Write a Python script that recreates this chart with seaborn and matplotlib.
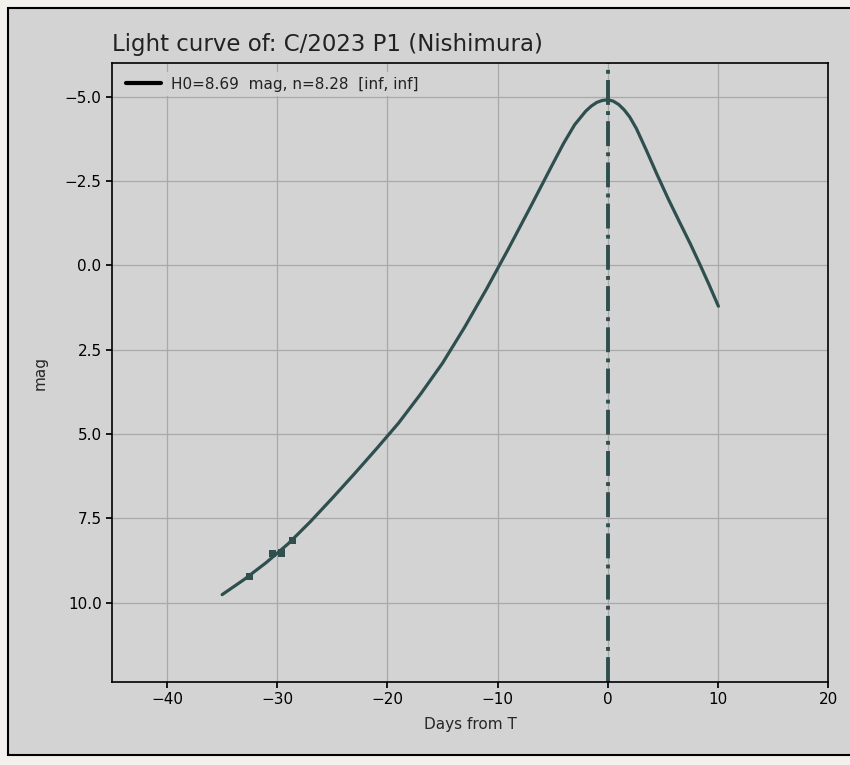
import matplotlib
matplotlib.use("Agg")
import matplotlib.pyplot as plt
from matplotlib.lines import Line2D
from matplotlib.patches import Rectangle
import seaborn as sns
import pandas as pd

# light curve (days from perihelion, magnitude)
days = [-35, -33, -31, -29, -27, -25, -23, -21, -19, -17, -15, -13, -11, -9,
        -7, -5, -4, -3, -2, -1.5, -1, -0.5, 0, 0.5, 1, 1.5, 2, 2.6, 3.5,
        4.5, 5.5, 6.5, 7.5, 8.3, 9.2, 10.05]
mag = [9.76, 9.31, 8.81, 8.25, 7.60, 6.90, 6.18, 5.44, 4.68, 3.82, 2.90, 1.84,
       0.70, -0.50, -1.74, -3.00, -3.62, -4.17, -4.57, -4.72, -4.83, -4.89,
       -4.91, -4.87, -4.77, -4.61, -4.40, -4.06, -3.42, -2.68, -1.97, -1.30,
       -0.64, -0.08, 0.57, 1.21]

# observations
obs_days = [-32.5, -30.4, -29.6, -28.6]
obs_mag = [9.22, 8.55, 8.53, 8.15]

title = "Light curve of: C/2023 P1 (Nishimura)"
legend_label = "H0=8.69  mag, n=8.28  [inf, inf]"
x_ticks = [-40, -30, -20, -10, 0, 10, 20]
y_ticks = [-5.0, -2.5, 0.0, 2.5, 5.0, 7.5, 10.0]

sns.set_theme(style="whitegrid", rc={
    "axes.facecolor": "lightgray",
    "figure.facecolor": "#f3f1ee",
    "axes.edgecolor": "black",
    "axes.linewidth": 1.2,
    "grid.color": "#a9a9a9",
    "grid.linewidth": 0.9,
    "xtick.bottom": True,
    "ytick.left": True,
    "xtick.color": "black",
    "ytick.color": "black",
    "xtick.major.size": 4,
    "ytick.major.size": 4,
    "text.color": "#222222",
})
plt.rcParams["font.family"] = ["DejaVu Sans"]

curve = pd.DataFrame({"days": days, "mag": mag})
obs = pd.DataFrame({"days": obs_days, "mag": obs_mag})

fig = plt.figure(figsize=(8.5, 7.65), dpi=100)
fig.add_artist(Rectangle((8 / 850, 1 - 755 / 765), 1.0, (755 - 8) / 765,
                         transform=fig.transFigure, facecolor="lightgray",
                         edgecolor="black", linewidth=1.5, zorder=0))
ax = fig.add_axes([112 / 850, 1 - 682 / 765, (828 - 112) / 850, (682 - 63) / 765])

ax.axvline(0, color="darkslategray", linestyle="-.", linewidth=2.8, zorder=2)
sns.lineplot(data=curve, x="days", y="mag", ax=ax, color="darkslategray",
             linewidth=2.3, sort=False, estimator=None, zorder=3)
sns.scatterplot(data=obs, x="days", y="mag", ax=ax, color="darkslategray",
                marker="s", s=28, edgecolor="none", zorder=4)

ax.set_xlim(-45, 20)
ax.set_ylim(12.35, -6.0)
ax.set_xticks(x_ticks)
ax.set_yticks(y_ticks)
ax.tick_params(labelsize=11)
ax.set_xlabel("Days from T", fontsize=11, labelpad=7)
ax.set_ylabel("mag", fontsize=11, labelpad=12)
ax.set_title(title, loc="left", fontsize=16.5, pad=9)

handle = Line2D([], [], color="black", linewidth=3)
leg = ax.legend([handle], [legend_label], loc="upper left", fontsize=11,
                frameon=True, fancybox=False, framealpha=0.95,
                handlelength=2.3, handletextpad=0.65, borderpad=0.3,
                borderaxespad=0.6)
leg.get_frame().set_edgecolor("white")
leg.get_frame().set_linewidth(0)

fig.savefig("out.png", dpi=100)
